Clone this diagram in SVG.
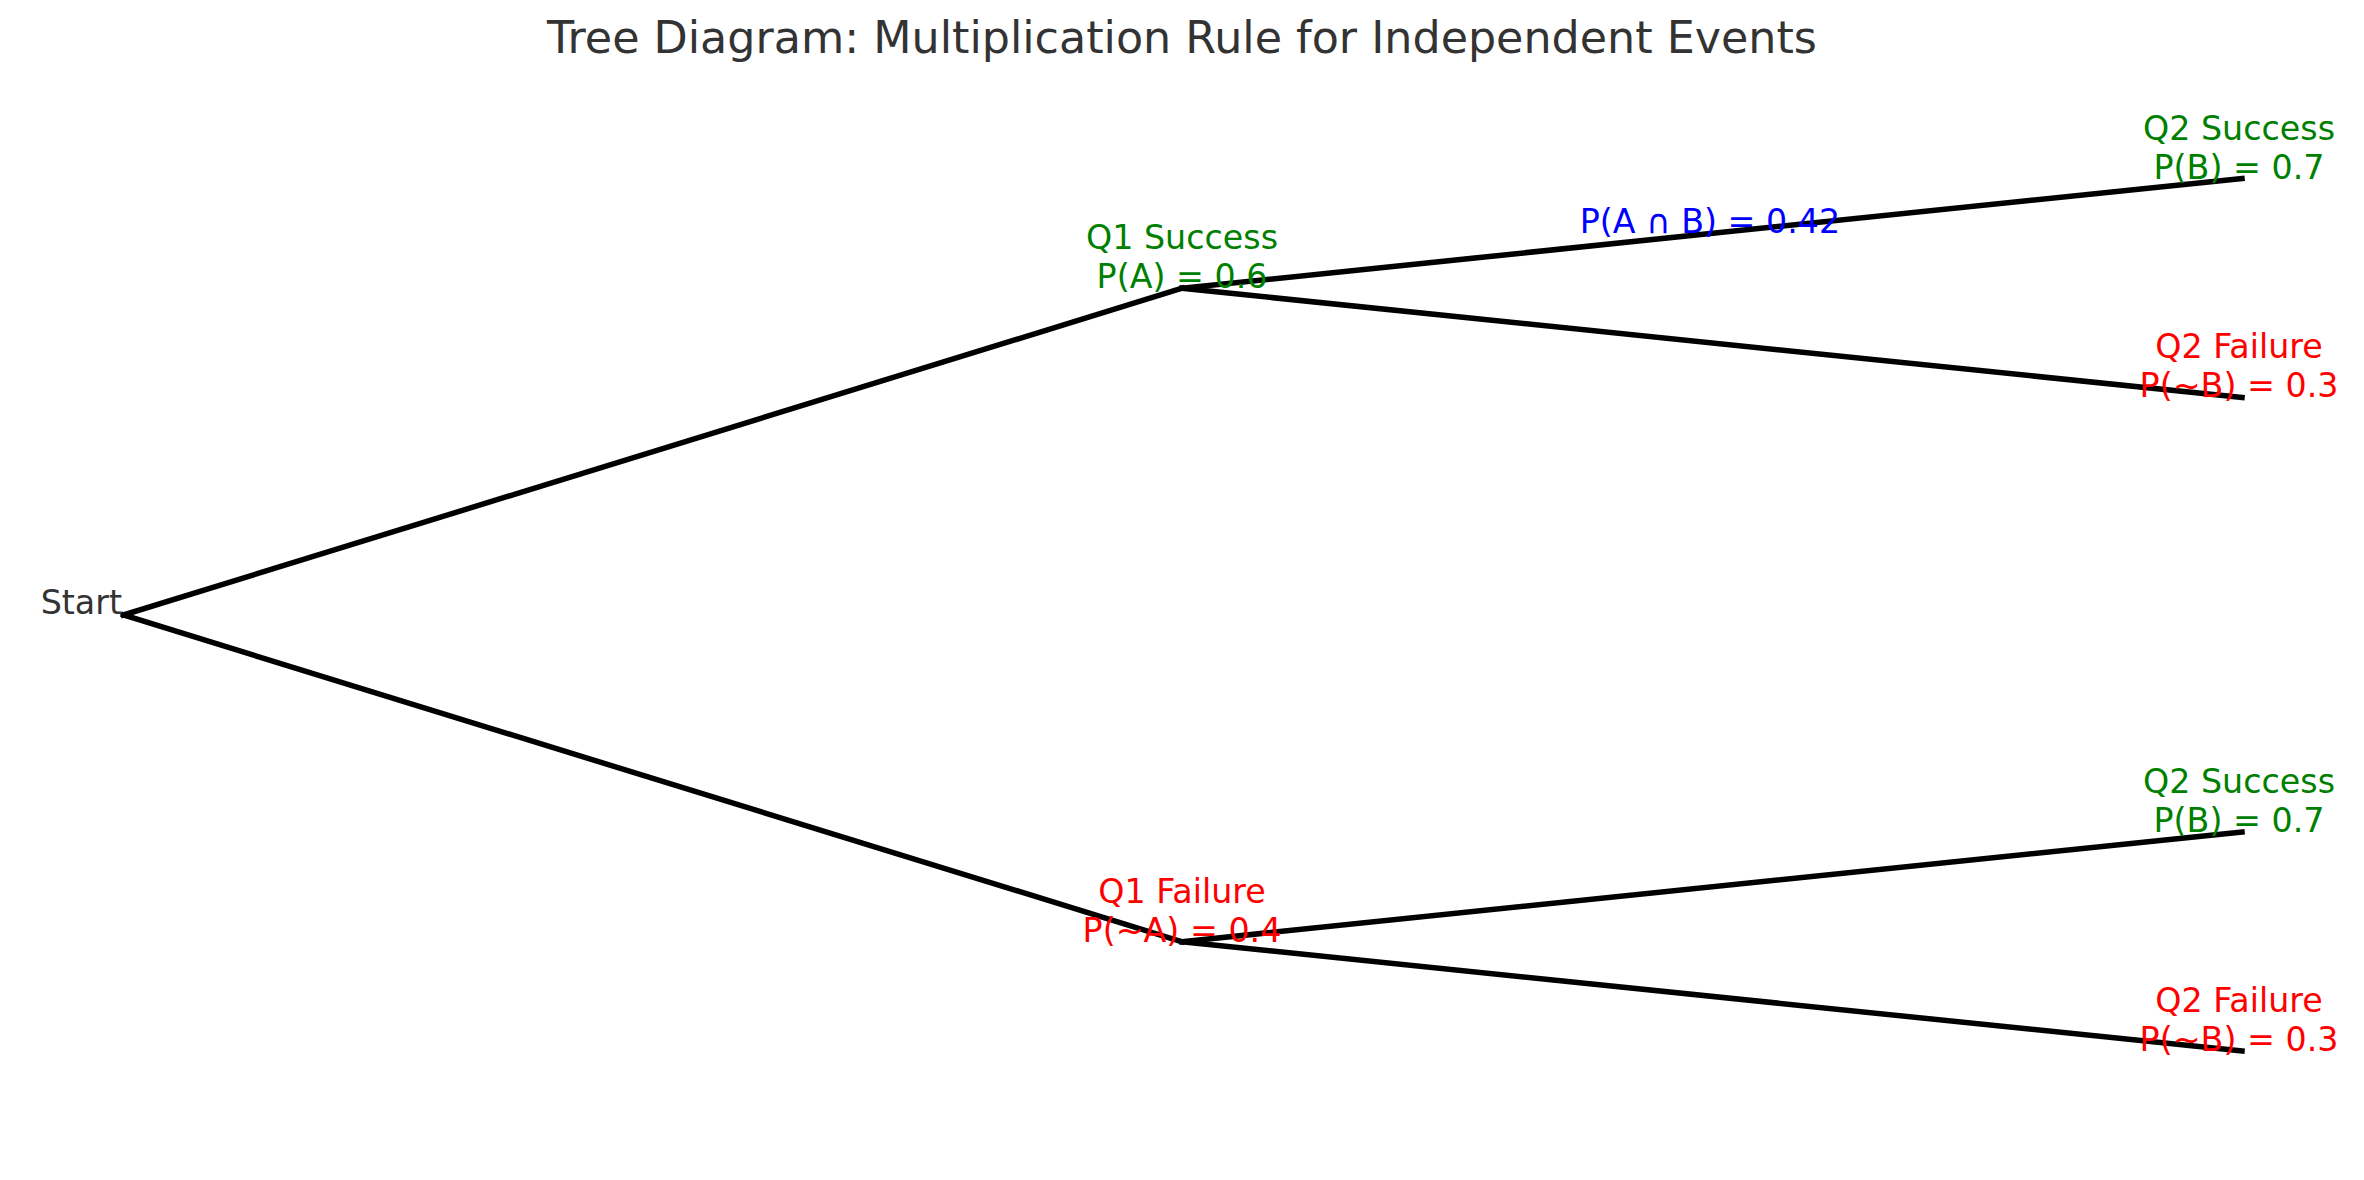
<svg xmlns="http://www.w3.org/2000/svg" width="2364" height="1180" viewBox="0 0 2364 1180">
<style>
text{font-family:"DejaVu Sans","Liberation Sans",sans-serif;font-size:33.3px;text-anchor:middle}
.title{font-size:44.4px;fill:#333333}
.dark{fill:#333333}
.g{fill:#008000}
.r{fill:#ff0000}
.b{fill:#0000ff}
.edge{stroke:#000000;stroke-width:5.5;stroke-linecap:square;fill:none}
</style>
<rect width="2364" height="1180" fill="#ffffff"/>
<text class="title" x="1182" y="53">Tree Diagram: Multiplication Rule for Independent Events</text>
<g id="connectors">
<line class="edge" x1="123.5" y1="615" x2="1182" y2="288.3"/>
<line class="edge" x1="123.5" y1="615" x2="1182" y2="941.7"/>
<line class="edge" x1="1182" y1="288.3" x2="2242" y2="178.5"/>
<line class="edge" x1="1182" y1="288.3" x2="2242" y2="397.5"/>
<line class="edge" x1="1182" y1="941.7" x2="2242" y2="832"/>
<line class="edge" x1="1182" y1="941.7" x2="2242" y2="1051"/>
<text class="b" x="1710" y="233.3">P(A ∩ B) = 0.42</text>
</g>
<g id="start"><text class="dark" x="122" y="614" style="text-anchor:end">Start</text></g>
<g id="q1-success"><text class="g" x="1182" y="249.3">Q1 Success</text><text class="g" x="1182" y="288.3">P(A) = 0.6</text></g>
<g id="q1-failure"><text class="r" x="1182" y="903">Q1 Failure</text><text class="r" x="1182" y="941.5">P(~A) = 0.4</text></g>
<g id="q2-success-1"><text class="g" x="2239" y="140">Q2 Success</text><text class="g" x="2239" y="179">P(B) = 0.7</text></g>
<g id="q2-failure-1"><text class="r" x="2239" y="358">Q2 Failure</text><text class="r" x="2239" y="397">P(~B) = 0.3</text></g>
<g id="q2-success-2"><text class="g" x="2239" y="793">Q2 Success</text><text class="g" x="2239" y="831.7">P(B) = 0.7</text></g>
<g id="q2-failure-2"><text class="r" x="2239" y="1011.7">Q2 Failure</text><text class="r" x="2239" y="1050.7">P(~B) = 0.3</text></g>
</svg>
